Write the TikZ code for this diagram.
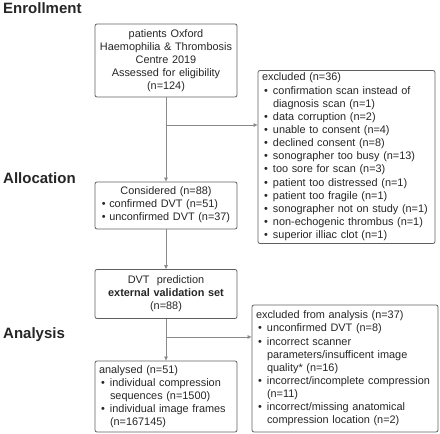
\documentclass[tikz,border=0pt]{standalone}
\usepackage{fontspec}
\setmainfont{Liberation Sans}
\usetikzlibrary{arrows.meta}
\definecolor{boxc}{HTML}{5F5F5F}
\definecolor{arrc}{HTML}{8A8A8A}
\definecolor{txt}{HTML}{262626}
\newcommand{\itm}{\hspace*{2pt}\makebox[9pt][l]{•}}
\newcommand{\cnt}{\hspace*{11pt}}
\begin{document}
\begin{tikzpicture}[x=1pt,y=-1pt,
  box/.style={draw=boxc, line width=0.8pt, rounded corners=2pt, inner xsep=4pt, inner ysep=0pt,
    font=\fontsize{10.9}{13.15}\selectfont, text=txt},
  arr/.style={draw=arrc, line width=0.7pt, -{Triangle[length=4pt,width=3.5pt]}},
  head/.style={font=\fontsize{15}{18}\selectfont\bfseries, text=txt, anchor=base west, inner sep=0pt}]
\useasboundingbox (0,0) rectangle (440,434);

\node[head] (h1) at (3,13) {Enrollment};
\node[head] (h2) at (3,183) {Allocation};
\node[head] (h3) at (3,338) {Analysis};

\node[box, minimum width=142pt, minimum height=73pt, text width=134pt, align=center] (b1) at (166,60.5)
  {patients Oxford\\Haemophilia \& Thrombosis\\Centre 2019\\Assessed for eligibility\\(n=124)};

\node[box, minimum width=177pt, minimum height=173pt, text width=169pt, align=left] (e1) at (346.5,157)
  {excluded (n=36)\\
   \itm confirmation scan instead of\\
   \cnt diagnosis scan (n=1)\\
   \itm data corruption (n=2)\\
   \itm unable to consent (n=4)\\
   \itm declined consent (n=8)\\
   \itm sonographer too busy (n=13)\\
   \itm too sore for scan (n=3)\\
   \itm patient too distressed (n=1)\\
   \itm patient too fragile (n=1)\\
   \itm sonographer not on study (n=1)\\
   \itm non-echogenic thrombus (n=1)\\
   \itm superior illiac clot (n=1)};

\node[box, minimum width=142pt, minimum height=47pt, text width=134pt, align=center] (b2) at (166,205.5)
  {Considered (n=88)\\
   \begin{tabular}[t]{@{}l@{}}• confirmed DVT (n=51)\\• unconfirmed DVT (n=37)\end{tabular}};

\node[box, minimum width=142pt, minimum height=49pt, text width=134pt, align=center] (b3) at (166,294)
  {DVT\ \ prediction\\\textbf{external validation set}\\(n=88)};

\node[box, minimum width=186pt, minimum height=127pt, text width=178pt, align=left] (e2) at (345,368.5)
  {excluded from analysis (n=37)\\
   \itm unconfirmed DVT (n=8)\\
   \itm incorrect scanner\\
   \cnt parameters/insufficent image\\
   \cnt quality* (n=16)\\
   \itm incorrect/incomplete compression\\
   \cnt (n=11)\\
   \itm incorrect/missing anatomical\\
   \cnt compression location (n=2)};

\node[box, minimum width=142pt, minimum height=71pt, text width=134pt, align=left] (b4) at (166,396.5)
  {analysed (n=51)\\
   \itm individual compression\\
   \cnt sequences (n=1500)\\
   \itm individual image frames\\
   \cnt (n=167145)};

\coordinate (j1) at (166,125);
\coordinate (j2) at (166,337);
\draw[arr] (b1.south) -- (b2.north);
\draw[arr] (j1) -- (j1 -| e1.west);
\draw[arr] (b2.south) -- (b3.north);
\draw[arr] (b3.south) -- (b4.north);
\draw[arr] (j2) -- (j2 -| e2.west);
\end{tikzpicture}
\end{document}
